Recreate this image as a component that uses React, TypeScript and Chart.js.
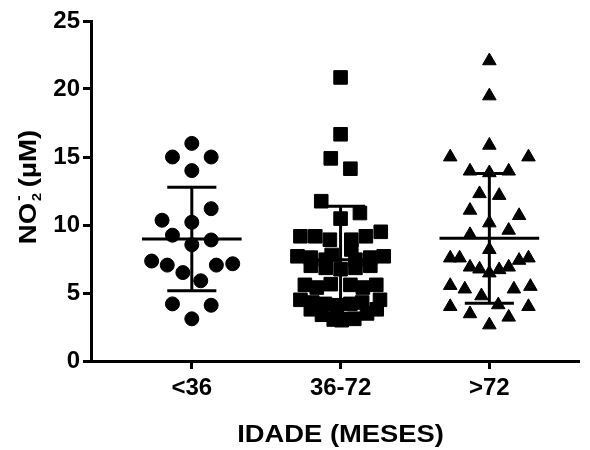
import React, { useEffect, useRef } from "react";
import { Chart, registerables } from "chart.js";

Chart.register(...registerables);

// ---------- data ----------
const categories = ["<36", "36-72", ">72"];
const yTickValues = [0, 5, 10, 15, 20, 25];
const xTitle = "IDADE (MESES)";

// group <36 (circles)
const g1Values = [16.0, 15.0, 15.0, 14.0, 11.2, 10.35, 10.2, 9.25, 8.9, 8.55, 7.35, 7.05, 6.5, 5.9, 7.05, 7.15, 4.2, 4.1, 3.1];
const g1Jitter = [0, -0.13, 0.13, 0, 0.13, -0.2, 0, -0.13, 0.13, 0, -0.27, -0.165, -0.06, 0.06, 0.165, 0.275, -0.13, 0.13, 0];

// group 36-72 (squares)
const g2Values = [
  20.85, 16.67, 14.9, 14.14, 11.75, 10.88, 10.47,
  9.17, 9.17, 8.92, 8.92, 9.17, 9.5,
  7.8, 8.2,
  7.7, 7.6, 7.45, 7.45, 7.6, 7.7,
  7.0, 6.85, 6.75, 6.85, 7.0,
  5.6, 5.4, 5.65, 5.6, 5.4, 5.6,
  4.5, 4.3, 4.2, 4.1, 4.2, 4.3, 4.5,
  3.8, 3.4, 3.05, 3.0, 3.1, 3.5, 3.8,
];
const g2Jitter = [
  0, 0, -0.066, 0.066, -0.13, 0.13, 0,
  -0.27, -0.17, -0.072, 0.072, 0.17, 0.27,
  -0.06, 0.072,
  -0.29, -0.2, -0.1, 0.1, 0.2, 0.29,
  -0.2, -0.1, 0, 0.1, 0.2,
  -0.24, -0.16, -0.066, 0.066, 0.15, 0.24,
  -0.27, -0.19, -0.105, -0.026, 0.066, 0.145, 0.265,
  -0.2, -0.125, -0.046, 0.007, 0.092, 0.178, 0.243,
];

// group >72 (triangles)
const g3Values = [
  22.07, 19.49, 15.86, 15.0, 15.0, 13.96, 13.84, 13.96, 12.3, 12.17,
  11.08, 10.69, 10.15, 9.61, 9.29, 8.19, 7.57, 7.57, 6.9, 6.76,
  6.47, 6.71, 6.9, 7.4, 7.57, 5.55, 5.29, 4.79, 5.29, 5.48,
  4.13, 4.0, 4.0, 3.47, 3.22, 2.65,
];
const g3Jitter = [
  0, 0, 0, -0.263, 0.263, -0.13, 0, 0.13, -0.066, 0.066,
  -0.13, 0.2, 0, 0.13, -0.13, 0, -0.263, -0.2, -0.13, -0.066,
  0, 0.066, 0.13, 0.2, 0.263, -0.263, -0.165, -0.053, 0.165, 0.276,
  0.06, -0.263, 0.263, -0.13, 0.13, 0,
];

// summary statistics (mean ± SD)
const means = [8.97, 7.45, 9.02];
const sds = [3.81, 3.93, 4.77];

const groupValues = [g1Values, g2Values, g3Values];
const groupJitter = [g1Jitter, g2Jitter, g3Jitter];
const groupStyles = ["circle", "rect", "triangle"];
const groupRadius = [7.0, 9.6, 7.8];

const FONT = "'Liberation Sans', Arial, Helvetica, sans-serif";
const MEAN_HALF = 0.335;
const CAP_HALF = 0.165;

const titlesPlugin = {
  id: "axisTitles",
  afterDraw(chart: any) {
    const ctx = chart.ctx as CanvasRenderingContext2D;
    const area = chart.chartArea;
    const xs = chart.scales.x;
    ctx.save();
    ctx.fillStyle = "#000";

    // X title
    ctx.save();
    ctx.font = `bold 23px ${FONT}`;
    ctx.textAlign = "center";
    ctx.textBaseline = "alphabetic";
    ctx.translate(xs.getPixelForValue(2), 442);
    ctx.scale(1.19, 1);
    ctx.fillText(xTitle, 0, 0);
    ctx.restore();

    // Y title: NO2- (µM), rotated
    const sx = 1.2;
    ctx.save();
    ctx.font = `bold 23px ${FONT}`;
    const wNO = ctx.measureText("NO").width;
    const wUnit = ctx.measureText("(\u00B5M)").width;
    const startUnit = wNO + 13;
    const total = (startUnit + wUnit) * sx;
    const cy = (area.top + area.bottom) / 2 - 4;
    ctx.translate(36, cy + total / 2);
    ctx.rotate(-Math.PI / 2);
    ctx.scale(sx, 1);
    ctx.textAlign = "left";
    ctx.textBaseline = "alphabetic";
    ctx.fillText("NO", 0, 0);
    ctx.font = `bold 12px ${FONT}`;
    ctx.fillText("2", wNO + 1.5, 4.5);
    ctx.font = `bold 14px ${FONT}`;
    ctx.fillText("-", wNO + 1.5, -13.5);
    ctx.font = `bold 23px ${FONT}`;
    ctx.fillText("(\u00B5M)", startUnit, 0);
    ctx.restore();

    ctx.restore();
  },
};

function buildDatasets() {
  const ds: any[] = [];
  for (let g = 0; g < 3; g++) {
    const c = g + 1;
    const m = means[g];
    const s = sds[g];
    const segs = [
      [{ x: c - MEAN_HALF, y: m }, { x: c + MEAN_HALF, y: m }],
      [{ x: c, y: m - s }, { x: c, y: m + s }],
      [{ x: c - CAP_HALF, y: m + s }, { x: c + CAP_HALF, y: m + s }],
      [{ x: c - CAP_HALF, y: m - s }, { x: c + CAP_HALF, y: m - s }],
    ];
    for (const seg of segs) {
      ds.push({
        type: "scatter",
        data: seg,
        showLine: true,
        borderColor: "#000",
        borderWidth: 3,
        pointRadius: 0,
        pointHoverRadius: 0,
        fill: false,
      });
    }
  }
  for (let g = 0; g < 3; g++) {
    const c = g + 1;
    ds.push({
      type: "scatter",
      label: categories[g],
      data: groupValues[g].map((v, i) => ({ x: c + groupJitter[g][i], y: v })),
      pointStyle: groupStyles[g],
      pointRadius: groupRadius[g],
      pointHoverRadius: groupRadius[g],
      backgroundColor: "#000",
      borderColor: "#000",
      borderWidth: 1,
      showLine: false,
    });
  }
  return ds;
}

export default function App() {
  const ref = useRef<HTMLCanvasElement | null>(null);

  useEffect(() => {
    const canvas = ref.current;
    if (!canvas) return;
    const chart = new Chart(canvas, {
      type: "scatter",
      data: { datasets: buildDatasets() },
      options: {
        responsive: false,
        animation: false,
        devicePixelRatio: 1,
        layout: { padding: { top: 21, right: 0, bottom: 0, left: 0 } },
        plugins: {
          legend: { display: false },
          tooltip: { enabled: false },
        },
        scales: {
          x: {
            type: "linear",
            min: 0.3224,
            max: 3.6053,
            afterBuildTicks: (s: any) => {
              s.ticks = categories.map((_, i) => ({ value: i + 1 }));
            },
            afterFit: (s: any) => {
              s.height = 89;
            },
            ticks: {
              callback: (_v: any, i: number) => categories[i],
              color: "#000",
              font: { family: FONT, size: 24, weight: "bold" },
              padding: 5,
              maxRotation: 0,
              autoSkip: false,
            },
            grid: {
              display: true,
              drawOnChartArea: false,
              drawTicks: true,
              tickLength: 8,
              tickWidth: 3,
              tickColor: "#000",
            },
            border: { display: true, color: "#000", width: 3 },
          },
          y: {
            type: "linear",
            min: 0,
            max: 25,
            afterBuildTicks: (s: any) => {
              s.ticks = yTickValues.map((v) => ({ value: v }));
            },
            afterFit: (s: any) => {
              s.width = 91;
            },
            ticks: {
              color: "#000",
              font: { family: FONT, size: 24, weight: "bold" },
              padding: 3,
            },
            grid: {
              display: true,
              drawOnChartArea: false,
              drawTicks: true,
              tickLength: 8,
              tickWidth: 3,
              tickColor: "#000",
            },
            border: { display: true, color: "#000", width: 3 },
          },
        },
      },
      plugins: [titlesPlugin],
    } as any);
    return () => chart.destroy();
  }, []);

  return (
    <div style={{ position: "fixed", left: 0, top: 0, width: 590, height: 450, background: "#fff" }}>
      <canvas ref={ref} width={590} height={450} style={{ display: "block" }} />
    </div>
  );
}
